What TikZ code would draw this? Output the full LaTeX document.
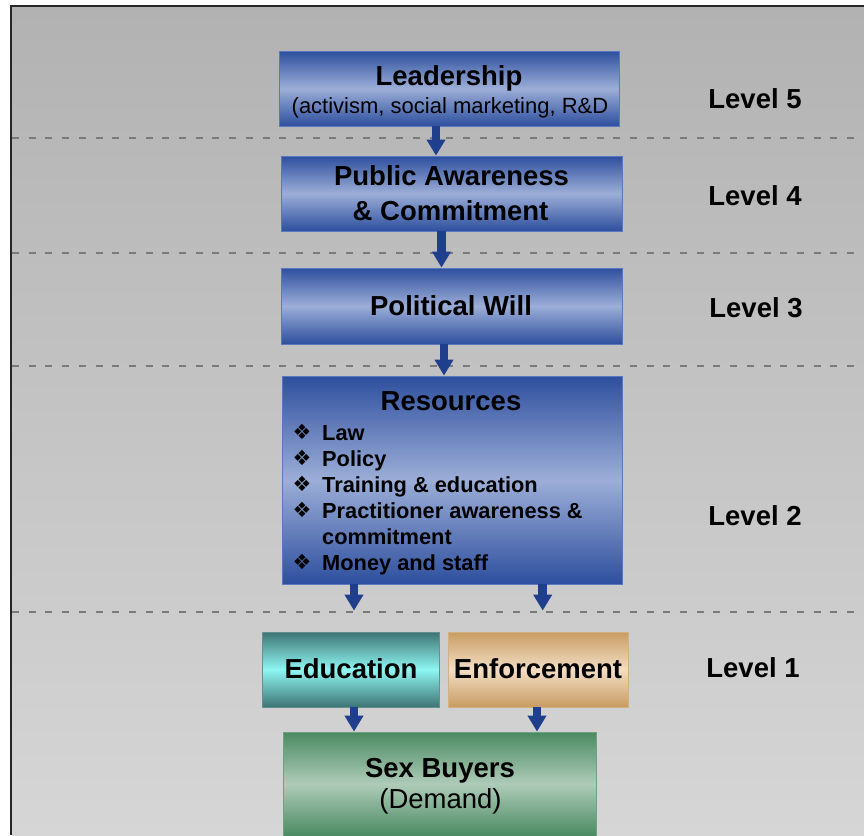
\documentclass[tikz,border=0pt]{standalone}
\usepackage{fontspec}
\setmainfont{Liberation Sans}
\newfontfamily\dejavu{DejaVu Sans}
\usetikzlibrary{arrows.meta}
\definecolor{bgtop}{HTML}{B2B2B2}
\definecolor{bgbot}{HTML}{D6D6D6}
\definecolor{dashgray}{HTML}{7A7A7A}
\definecolor{bluedark}{HTML}{2E4F9E}
\definecolor{bluemid}{HTML}{9CAED8}
\definecolor{blueedge}{HTML}{5A78BE}
\definecolor{tealdark}{HTML}{3D7474}
\definecolor{tealmid}{HTML}{8EF6F2}
\definecolor{tandark}{HTML}{C89C62}
\definecolor{tanmid}{HTML}{F3DDC4}
\definecolor{greendark}{HTML}{4A8A62}
\definecolor{greenmid}{HTML}{AECBB8}
\definecolor{arrowblue}{HTML}{1F3F8C}
\newcommand{\titlefont}{\fontsize{27.5}{33}\selectfont\bfseries}
\newcommand{\subfont}{\fontsize{22}{26}\selectfont}
\newcommand{\listfont}{\fontsize{21.8}{26}\selectfont\bfseries}
\tikzset{
  boxbase/.style={rectangle, inner sep=0pt, line width=0.8pt},
  bluebox/.style={boxbase, draw=blueedge, top color=bluedark, bottom color=bluedark, middle color=bluemid},
  tealbox/.style={boxbase, draw=tealdark!80, top color=tealdark, bottom color=tealdark, middle color=tealmid},
  tanbox/.style={boxbase, draw=tandark!80, top color=tandark, bottom color=tandark, middle color=tanmid},
  greenbox/.style={boxbase, draw=greendark!80, top color=greendark, bottom color=greendark, middle color=greenmid},
  ttext/.style={anchor=base, inner sep=0pt, font=\titlefont},
  stext/.style={anchor=base, inner sep=0pt, font=\subfont},
  ltext/.style={anchor=base west, inner sep=0pt, font=\listfont},
  bullet/.style={anchor=center, inner sep=0pt, font=\dejavu\fontsize{21}{21}\selectfont},
  levellabel/.style={anchor=base, inner sep=0pt, font=\titlefont},
  divider/.style={draw=dashgray, line width=2pt, dash pattern=on 7pt off 9.7pt},
  flow/.style={draw=arrowblue, line width=8.5pt, -{Triangle[width=18pt,length=16pt]}},
}
\begin{document}
\begin{tikzpicture}[x=1pt,y=-1pt]
\useasboundingbox (0,0) rectangle (864,835);
% background
\shade[top color=bgtop, bottom color=bgbot] (11,6) rectangle (864,835);
\draw[line width=1.5pt, black!85] (11,835) -- (11,6) -- (864,6);
% dividers
\coordinate (d1a) at (12,138); \coordinate (d1b) at (864,138);
\coordinate (d2a) at (12,253); \coordinate (d2b) at (864,253);
\coordinate (d3a) at (12,366); \coordinate (d3b) at (864,366);
\coordinate (d4a) at (12,612); \coordinate (d4b) at (864,612);
\draw[divider] (d1a) -- (d1b);
\draw[divider] (d2a) -- (d2b);
\draw[divider] (d3a) -- (d3b);
\draw[divider] (d4a) -- (d4b);
% boxes
\node[bluebox, minimum width=340pt, minimum height=75pt] (lead) at (449,88.5) {};
\node[bluebox, minimum width=341pt, minimum height=75pt] (pub) at (451.5,193.5) {};
\node[bluebox, minimum width=341pt, minimum height=76pt] (pol) at (451.5,306) {};
\node[bluebox, minimum width=340pt, minimum height=208pt] (res) at (452,480) {};
\node[tealbox, minimum width=177pt, minimum height=75pt] (edu) at (350.5,669.5) {};
\node[tanbox, minimum width=180pt, minimum height=75pt] (enf) at (538,669.5) {};
\node[greenbox, minimum width=313pt, minimum height=104pt] (sex) at (439.5,784) {};
% texts
\node[ttext] (tlead) at (449,85) {Leadership};
\node[stext] (slead) at (450,113) {(activism, social marketing, R\&D};
\node[ttext] (tpub1) at (451.5,185) {Public Awareness};
\node[ttext] (tpub2) at (450.5,220) {\& Commitment};
\node[ttext] (tpol) at (451,315) {Political Will};
\node[ttext] (tres) at (451,410) {Resources};
\node[ltext] (r1) at (322,440) {Law};
\node[ltext] (r2) at (322,466) {Policy};
\node[ltext] (r3) at (322,492) {Training \& education};
\node[ltext] (r4) at (322,518) {Practitioner awareness \&};
\node[ltext] (r5) at (322,544) {commitment};
\node[ltext] (r6) at (322,570) {Money and staff};
\node[bullet] (b1) at (302,432) {❖};
\node[bullet] (b2) at (302,458) {❖};
\node[bullet] (b3) at (302,484) {❖};
\node[bullet] (b4) at (302,510) {❖};
\node[bullet] (b6) at (302,562) {❖};
\node[ttext] (tedu) at (351,678) {Education};
\node[ttext] (tenf) at (538,678) {Enforcement};
\node[ttext] (tsex) at (440,777) {Sex Buyers};
\node[stext, font=\fontsize{27.5}{33}\selectfont] (tdem) at (440.5,808) {(Demand)};
% level labels
\node[levellabel] (l5) at (755,108) {Level 5};
\node[levellabel] (l4) at (755,205) {Level 4};
\node[levellabel] (l3) at (756,317) {Level 3};
\node[levellabel] (l2) at (755,525) {Level 2};
\node[levellabel] (l1) at (753,677) {Level 1};
% arrows
\draw[flow] ([xshift=-13pt]lead.south) -- ([xshift=-15.5pt]pub.north);
\draw[flow] ([xshift=-10pt]pub.south) -- ([xshift=-10pt]pol.north);
\draw[flow] ([xshift=-7.5pt]pol.south) -- ([xshift=-8pt]res.north);
\draw[flow, shorten >=21pt] ([xshift=-98pt]res.south) -- ([xshift=3.5pt]edu.north);
\draw[flow, shorten >=21pt] ([xshift=90.7pt]res.south) -- ([xshift=4.7pt]enf.north);
\draw[flow] ([xshift=3.5pt]edu.south) -- ([xshift=-85.5pt]sex.north);
\draw[flow] ([xshift=-1pt]enf.south) -- ([xshift=97.5pt]sex.north);
\end{tikzpicture}
\end{document}
